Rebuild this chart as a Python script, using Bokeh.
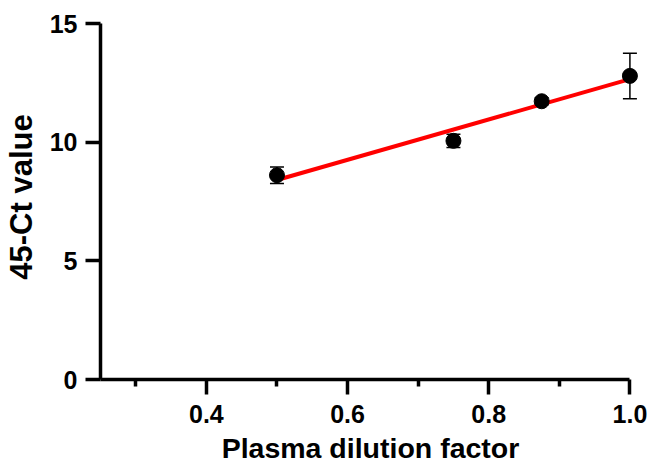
import numpy as np
from bokeh.plotting import figure
from bokeh.models import ColumnDataSource, FixedTicker, Whisker, TeeHead, Range1d
from bokeh.embed import file_html
from bokeh.resources import INLINE

# Data
dilution = [0.5, 0.75, 0.875, 1.0]
mean_ct = [8.62, 10.07, 11.74, 12.81]
sem_ct = [0.35, 0.28, 0.15, 0.96]

x_ticks = [0.4, 0.6, 0.8, 1.0]
x_minor = [0.3, 0.5, 0.7, 0.9]
y_ticks = [0, 5, 10, 15]

FONT = "Liberation Sans"

p = figure(width=650, height=470, output_backend="svg", toolbar_location=None,
           x_range=Range1d(0.25, 1.015), y_range=Range1d(0, 15.4),
           min_border_left=99, min_border_right=10, min_border_top=14, min_border_bottom=91)
p.outline_line_color = None
p.xgrid.visible = False
p.ygrid.visible = False
p.background_fill_color = "white"
p.border_fill_color = "white"

# linear fit
slope, intercept = np.polyfit(dilution, mean_ct, 1)
fx = np.array([min(dilution), max(dilution)])
fy = slope * fx + intercept
p.line(fx, fy, line_color="#ff0000", line_width=4)

src = ColumnDataSource(dict(
    x=dilution, y=mean_ct,
    upper=[m + s for m, s in zip(mean_ct, sem_ct)],
    lower=[m - s for m, s in zip(mean_ct, sem_ct)],
))
wh = Whisker(base="x", upper="upper", lower="lower", source=src, dimension="height",
             line_color="black", line_width=1.5,
             upper_head=TeeHead(size=14, line_color="black", line_width=1.5),
             lower_head=TeeHead(size=14, line_color="black", line_width=1.5))
p.add_layout(wh)
p.scatter("x", "y", source=src, size=15, color="black")

p.xaxis.axis_line_width = 3.5
p.yaxis.axis_line_width = 3.5
p.xaxis.major_tick_line_width = 3.5
p.yaxis.major_tick_line_width = 3.5
p.xaxis.minor_tick_line_width = 3.5
p.xaxis.major_tick_in = 0
p.yaxis.major_tick_in = 0
p.xaxis.minor_tick_in = 0
p.xaxis.major_tick_out = 15
p.yaxis.major_tick_out = 15
p.xaxis.major_label_text_font = FONT
p.yaxis.major_label_text_font = FONT
p.xaxis.major_label_text_font_style = "bold"
p.yaxis.major_label_text_font_style = "bold"
p.xaxis.major_label_text_font_size = "25px"
p.yaxis.major_label_text_font_size = "25px"
p.xaxis.major_label_text_color = "black"
p.yaxis.major_label_text_color = "black"
p.xaxis.axis_label_text_font = FONT
p.yaxis.axis_label_text_font = FONT
p.xaxis.axis_label_text_font_style = "bold"
p.yaxis.axis_label_text_font_style = "bold"
p.xaxis.axis_label_text_color = "black"
p.yaxis.axis_label_text_color = "black"

p.xaxis.ticker = FixedTicker(ticks=x_ticks, minor_ticks=x_minor)
p.xaxis.minor_tick_out = 7
p.xaxis.bounds = (0.25, 1.0)
p.xaxis.major_label_overrides = {t: f"{t:.1f}" for t in x_ticks}
p.xaxis.major_label_standoff = 10
p.xaxis.axis_label = "Plasma dilution factor"
p.xaxis.axis_label_text_font_size = "28.5px"
p.xaxis.axis_label_standoff = 6

p.yaxis.ticker = FixedTicker(ticks=y_ticks, minor_ticks=[])
p.yaxis.minor_tick_out = 0
p.yaxis.bounds = (0, 15)
p.yaxis.major_label_standoff = 8
p.yaxis.axis_label = "45-Ct value"
p.yaxis.axis_label_text_font_size = "31px"
p.yaxis.axis_label_standoff = 8

open("out.html", "w").write(file_html(p, INLINE))
